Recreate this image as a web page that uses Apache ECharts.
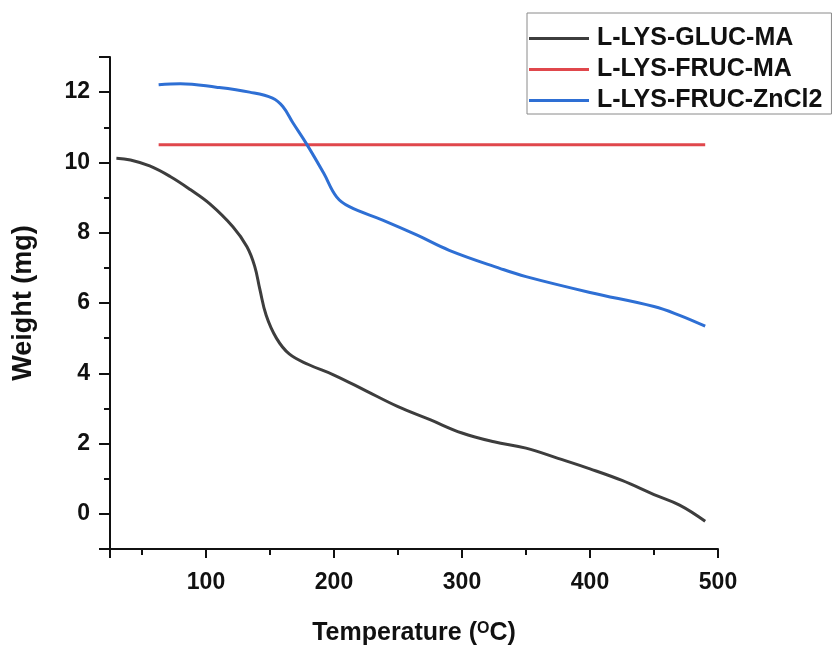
<!DOCTYPE html>
<html>
<head>
<meta charset="utf-8">
<script src="https://cdn.jsdelivr.net/npm/echarts@6/dist/echarts.min.js"></script>
<style>
  html, body { margin: 0; padding: 0; background: #fff; }
  #chart { width: 833px; height: 653px; }
</style>
</head>
<body>
<div id="chart"></div>
<script>
// series names
const seriesNames = ['L-LYS-GLUC-MA', 'L-LYS-FRUC-MA', 'L-LYS-FRUC-ZnCl2']

// L-LYS-GLUC-MA
const glucTemp = [30, 41, 56, 72, 88, 103, 121, 132, 138, 142, 147, 155, 165, 180, 200, 225, 250, 275, 300, 325, 350, 375, 400, 425, 450, 470, 490]
const glucWeight = [10.12, 10.07, 9.9, 9.6, 9.22, 8.82, 8.17, 7.6, 7.05, 6.4, 5.65, 5.0, 4.55, 4.25, 3.95, 3.5, 3.05, 2.68, 2.3, 2.05, 1.87, 1.58, 1.28, 0.95, 0.55, 0.25, -0.21]

// L-LYS-FRUC-MA
const frucMaTemp = [63, 490]
const frucMaWeight = [10.5, 10.5]

// L-LYS-FRUC-ZnCl2
const znTemp = [63, 80, 108, 134, 152, 160, 168, 179, 192, 202, 212, 238, 265, 290, 330, 350, 400, 450, 470, 490]
const znWeight = [12.21, 12.24, 12.14, 12.0, 11.83, 11.59, 11.12, 10.5, 9.69, 9.02, 8.74, 8.36, 7.93, 7.5, 6.98, 6.75, 6.3, 5.9, 5.65, 5.34]

const lineColors = ['#3d3d3d', '#e0474c', '#2e6fd4']

const font = 'Liberation Sans, Arial, sans-serif'
const pair = (xs, ys) => xs.map((x, i) => [x, ys[i]])

const chart = echarts.init(document.getElementById('chart'))

const option = {
  backgroundColor: '#fff',
  animation: false,
  color: lineColors,
  grid: { left: 110, right: 115, top: 57, bottom: 104 },
  legend: {
    orient: 'vertical',
    left: 527,
    top: 13,
    padding: [13, 9, 1, 2],
    icon: 'rect',
    itemWidth: 60,
    itemHeight: 3,
    itemGap: 6,
    borderColor: '#8a8a8a',
    borderWidth: 1,
    data: seriesNames,
    textStyle: { fontSize: 25, fontWeight: 'bold', color: '#111', fontFamily: font, padding: [0, 0, 0, 3] }
  },
  xAxis: {
    type: 'value',
    min: 25,
    max: 500,
    splitNumber: 5,
    name: '{n|Temperature (}{s|O}{n|C)}',
    nameLocation: 'middle',
    nameGap: 72,
    nameTextStyle: {
      rich: {
        n: { fontSize: 25, fontWeight: 'bold', color: '#111', fontFamily: font },
        s: { fontSize: 16, fontWeight: 'bold', color: '#111', fontFamily: font, verticalAlign: 'top' }
      }
    },
    axisLine: { onZero: false, lineStyle: { color: '#111', width: 2 } },
    axisTick: { length: 9, lineStyle: { color: '#111', width: 2 } },
    minorTick: { show: true, splitNumber: 2, length: 6, lineStyle: { color: '#111', width: 2 } },
    splitLine: { show: false },
    axisLabel: { showMinLabel: false, margin: 22, fontSize: 23, fontWeight: 'bold', color: '#111', fontFamily: font }
  },
  yAxis: {
    type: 'value',
    min: -1,
    max: 13,
    splitNumber: 7,
    name: 'Weight (mg)',
    nameLocation: 'middle',
    nameGap: 73,
    nameTextStyle: { fontSize: 27, fontWeight: 'bold', color: '#111', fontFamily: font },
    axisLine: { show: true, onZero: false, lineStyle: { color: '#111', width: 2 } },
    axisTick: { show: true, length: 11, lineStyle: { color: '#111', width: 2 } },
    minorTick: { show: true, splitNumber: 2, length: 6, lineStyle: { color: '#111', width: 2 } },
    splitLine: { show: false },
    axisLabel: { showMinLabel: false, showMaxLabel: false, margin: 20, fontSize: 23, fontWeight: 'bold', color: '#111', fontFamily: font }
  },
  series: [
    {
      name: seriesNames[0],
      type: 'line',
      data: pair(glucTemp, glucWeight),
      symbol: 'none',
      smooth: 0.4,
      lineStyle: { width: 3, color: lineColors[0] }
    },
    {
      name: seriesNames[1],
      type: 'line',
      data: pair(frucMaTemp, frucMaWeight),
      symbol: 'none',
      lineStyle: { width: 3, color: lineColors[1] }
    },
    {
      name: seriesNames[2],
      type: 'line',
      data: pair(znTemp, znWeight),
      symbol: 'none',
      smooth: 0.4,
      lineStyle: { width: 3, color: lineColors[2] }
    }
  ]
}

chart.setOption(option)
window.addEventListener('resize', () => chart.resize())
</script>
</body>
</html>
